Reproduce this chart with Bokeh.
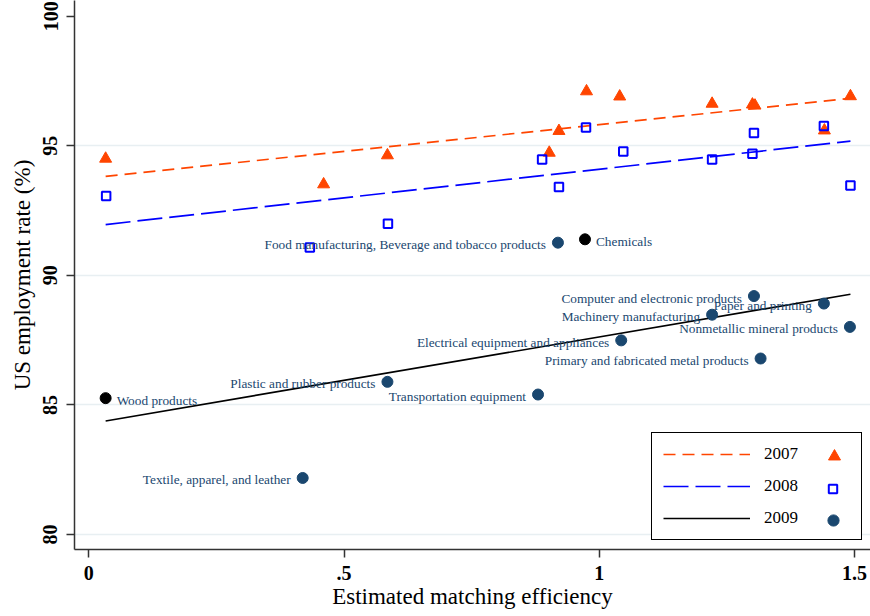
from bokeh.plotting import figure
from bokeh.models import ColumnDataSource, Range1d, FixedTicker, Legend, LegendItem
from bokeh.core.properties import value
from bokeh.embed import file_html
from bokeh.resources import INLINE

# ---------------- data ----------------
x_ticks = [0, 0.5, 1, 1.5]
x_tick_labels = {0: "0", 0.5: ".5", 1: "1", 1.5: "1.5"}
y_ticks = [80, 85, 90, 95, 100]
y_grid = [80, 85, 90, 95]

years = ["2007", "2008", "2009"]

eff_2007 = [0.033, 0.460, 0.585, 0.902, 0.921, 0.975, 1.040, 1.221, 1.300, 1.305, 1.441, 1.492]
emp_2007 = [94.50, 93.51, 94.63, 94.73, 95.57, 97.10, 96.90, 96.62, 96.59, 96.55, 95.59, 96.91]

eff_2008 = [0.034, 0.433, 0.586, 0.888, 0.921, 0.974, 1.047, 1.221, 1.300, 1.303, 1.440, 1.492]
emp_2008 = [93.06, 91.07, 91.99, 94.47, 93.41, 95.70, 94.78, 94.47, 94.69, 95.49, 95.76, 93.47]

industries = [
    "Wood products",
    "Textile, apparel, and leather",
    "Plastic and rubber products",
    "Transportation equipment",
    "Food manufacturing, Beverage and tobacco products",
    "Chemicals",
    "Electrical equipment and appliances",
    "Machinery manufacturing",
    "Computer and electronic products",
    "Primary and fabricated metal products",
    "Paper and printing",
    "Nonmetallic mineral products",
]
eff_2009 = [0.033, 0.419, 0.585, 0.880, 0.919, 0.972, 1.043, 1.221, 1.303, 1.316, 1.440, 1.491]
emp_2009 = [85.26, 82.18, 85.89, 85.40, 91.26, 91.39, 87.49, 88.48, 89.20, 86.79, 88.91, 88.01]
highlight = ["Wood products", "Chemicals"]   # black markers, labels to the right

# fitted lines (end points)
fit_x = [0.033, 1.492]
fit_2007 = [93.82, 96.83]
fit_2008 = [91.96, 95.18]
fit_2009 = [84.38, 89.27]

# ---------------- style ----------------
ORANGE = "#ff4500"
BLUE = "#0000ff"
NAVY = "#1a476f"
GRID = "#e8eff2"
SERIF = "Liberation Serif"

p = figure(width=870, height=616, output_backend="svg", toolbar_location=None,
           x_range=Range1d(-0.028, 1.5313), y_range=Range1d(79.42, 100.605),
           min_border_left=74, min_border_right=0, min_border_top=0, min_border_bottom=67)
p.outline_line_color = None
p.background_fill_color = "white"
p.border_fill_color = "white"

for ax in (p.xaxis[0], p.yaxis[0]):
    ax.axis_line_color = "#333333"
    ax.axis_line_width = 1.5
    ax.major_tick_line_color = "#333333"
    ax.major_tick_line_width = 1.5
    ax.major_tick_out = 8
    ax.major_tick_in = 0
    ax.minor_tick_line_color = None
    ax.major_label_text_font = SERIF
    ax.major_label_text_font_style = "bold"
    ax.major_label_text_font_size = "20px"
    ax.major_label_text_color = "black"
    ax.axis_label_text_font = SERIF
    ax.axis_label_text_font_size = "23px"
    ax.axis_label_text_font_style = "normal"
    ax.axis_label_text_color = "black"

p.xaxis.ticker = FixedTicker(ticks=x_ticks)
p.xaxis.major_label_overrides = x_tick_labels
p.xaxis.axis_label = "Estimated matching efficiency"
p.xaxis.major_label_standoff = 8
p.xaxis.axis_label_standoff = 1

p.yaxis.ticker = FixedTicker(ticks=y_ticks)
p.yaxis.major_label_orientation = "vertical"
p.yaxis.axis_label = "US employment rate (%)"
p.yaxis.major_label_standoff = 9
p.yaxis.axis_label_standoff = 6

p.xgrid.grid_line_color = None
p.ygrid.ticker = FixedTicker(ticks=y_grid)
p.ygrid.grid_line_color = GRID
p.ygrid.grid_line_width = 1.5

# fitted lines
l07 = p.line(fit_x, fit_2007, line_color=ORANGE, line_width=1.7, line_dash="12 7")
l08 = p.line(fit_x, fit_2008, line_color=BLUE, line_width=1.7, line_dash="25 7")
l09 = p.line(fit_x, fit_2009, line_color="black", line_width=1.7)

# markers
s07 = p.scatter(eff_2007, emp_2007, marker="triangle", size=12,
                fill_color=ORANGE, line_color=ORANGE)
s08 = p.scatter(eff_2008, emp_2008, marker="square", size=8.5,
                fill_color=None, line_color=BLUE, line_width=2)

colors_2009 = ["black" if n in highlight else NAVY for n in industries]
src09 = ColumnDataSource(dict(x=eff_2009, y=emp_2009, name=industries, color=colors_2009))
s09 = p.scatter("x", "y", source=src09, marker="circle", size=11,
                fill_color="color", line_color="color")

# marker labels
left_src = ColumnDataSource(dict(
    x=[x for x, n in zip(eff_2009, industries) if n not in highlight],
    y=[y for y, n in zip(emp_2009, industries) if n not in highlight],
    t=[n for n in industries if n not in highlight]))
right_src = ColumnDataSource(dict(
    x=[x for x, n in zip(eff_2009, industries) if n in highlight],
    y=[y for y, n in zip(emp_2009, industries) if n in highlight],
    t=[n for n in industries if n in highlight]))
p.text("x", "y", text="t", source=left_src, text_align="right", text_baseline="middle",
       x_offset=-12, y_offset=2, text_font=value(SERIF), text_font_size="13.3px",
       text_color=NAVY)
p.text("x", "y", text="t", source=right_src, text_align="left", text_baseline="middle",
       x_offset=11, y_offset=2, text_font=value(SERIF), text_font_size="13.3px",
       text_color=NAVY)

# legend: lines + labels (with frame)
leg1 = Legend(items=[LegendItem(label=years[0], renderers=[l07]),
                     LegendItem(label=years[1], renderers=[l08]),
                     LegendItem(label=years[2], renderers=[l09])],
              location=(577, 9), orientation="vertical",
              border_line_color="black", border_line_width=1.3, border_line_alpha=1,
              background_fill_color="white", background_fill_alpha=1,
              padding=11, margin=0, spacing=12, glyph_width=87, glyph_height=20,
              label_standoff=14, label_width=86, label_height=20,
              label_text_font=SERIF, label_text_font_size="17px",
              label_text_color="black")
p.add_layout(leg1)

# legend: marker keys, one small borderless legend per marker
def marker_key(renderer, glyph, cx, cy, index=0):
    return Legend(items=[LegendItem(label=" ", renderers=[renderer], index=index)],
                  location=(int(round(cx - glyph / 2)), int(round(cy - glyph / 2))),
                  orientation="vertical",
                  border_line_color=None, background_fill_alpha=0,
                  padding=0, margin=0, spacing=0, glyph_width=glyph, glyph_height=glyph,
                  label_standoff=0, label_width=0, label_height=0,
                  label_text_font_size="1px")

p.add_layout(marker_key(s07, 30, 760, 93))
p.add_layout(marker_key(s08, 21, 758, 60))
p.add_layout(marker_key(s09, 28, 759, 29, index=2))

open("out.html", "w").write(file_html(p, INLINE))
